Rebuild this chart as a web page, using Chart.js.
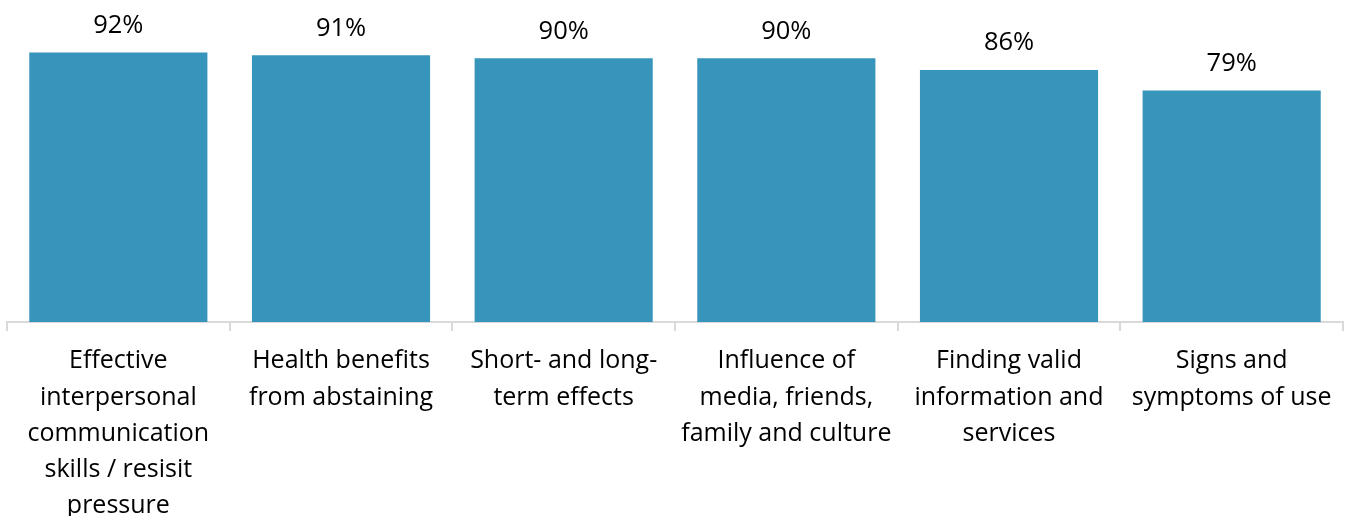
<!DOCTYPE html>
<html lang="en">
<head>
  <meta charset="UTF-8" />
  <title>Topics covered</title>
  <script src="https://cdn.jsdelivr.net/npm/chart.js"></script>
  <style>
    html, body {
      margin: 0;
      padding: 0;
      background: #fff;
      overflow: hidden;
    }
    #wrap {
      width: 1349px;
      height: 516px;
    }
  </style>
</head>
<body>
  <div id="wrap">
    <canvas id="topicsChart"></canvas>
  </div>

  <script>
    const categories = [
      ["Effective", "interpersonal", "communication", "skills / resisit", "pressure"],
      ["Health benefits", "from abstaining"],
      ["Short- and long-", "term effects"],
      ["Influence of", "media, friends,", "family and culture"],
      ["Finding valid", "information and", "services"],
      ["Signs and", "symptoms of use"]
    ];
    const percents = [92, 91, 90, 90, 86, 79];

    const fontFamily = "'Open Sans', Lato, sans-serif";

    // value labels above each bar
    const valueLabels = {
      id: 'valueLabels',
      afterDatasetsDraw(chart) {
        const ctx = chart.ctx;
        const meta = chart.getDatasetMeta(0);
        ctx.save();
        ctx.font = `25.5px ${fontFamily}`;
        ctx.fillStyle = '#000';
        ctx.textAlign = 'center';
        ctx.textBaseline = 'middle';
        meta.data.forEach((bar, i) => {
          ctx.fillText(percents[i] + '%', bar.x, bar.y - 27);
        });
        ctx.restore();
      }
    };

    new Chart(document.getElementById('topicsChart'), {
      type: 'bar',
      data: {
        labels: categories,
        datasets: [{
          data: percents,
          backgroundColor: '#3794bb',
          barPercentage: 0.8,
          categoryPercentage: 1
        }]
      },
      options: {
        responsive: true,
        maintainAspectRatio: false,
        animation: false,
        layout: { padding: { left: 7, right: 6, top: 29, bottom: 0 } },
        plugins: {
          legend: { display: false },
          tooltip: { enabled: false }
        },
        scales: {
          y: {
            display: false,
            min: 0,
            max: 100
          },
          x: {
            afterFit(scale) { scale.height = 194; },
            border: { color: '#d9d9d9', width: 2 },
            grid: {
              drawOnChartArea: false,
              color: '#d9d9d9',
              lineWidth: 2,
              tickLength: 9
            },
            ticks: {
              color: '#000',
              padding: 12,
              maxRotation: 0,
              autoSkip: false,
              font: { family: fontFamily, size: 25, lineHeight: 1.45 }
            }
          }
        }
      },
      plugins: [valueLabels]
    });
  </script>
</body>
</html>
